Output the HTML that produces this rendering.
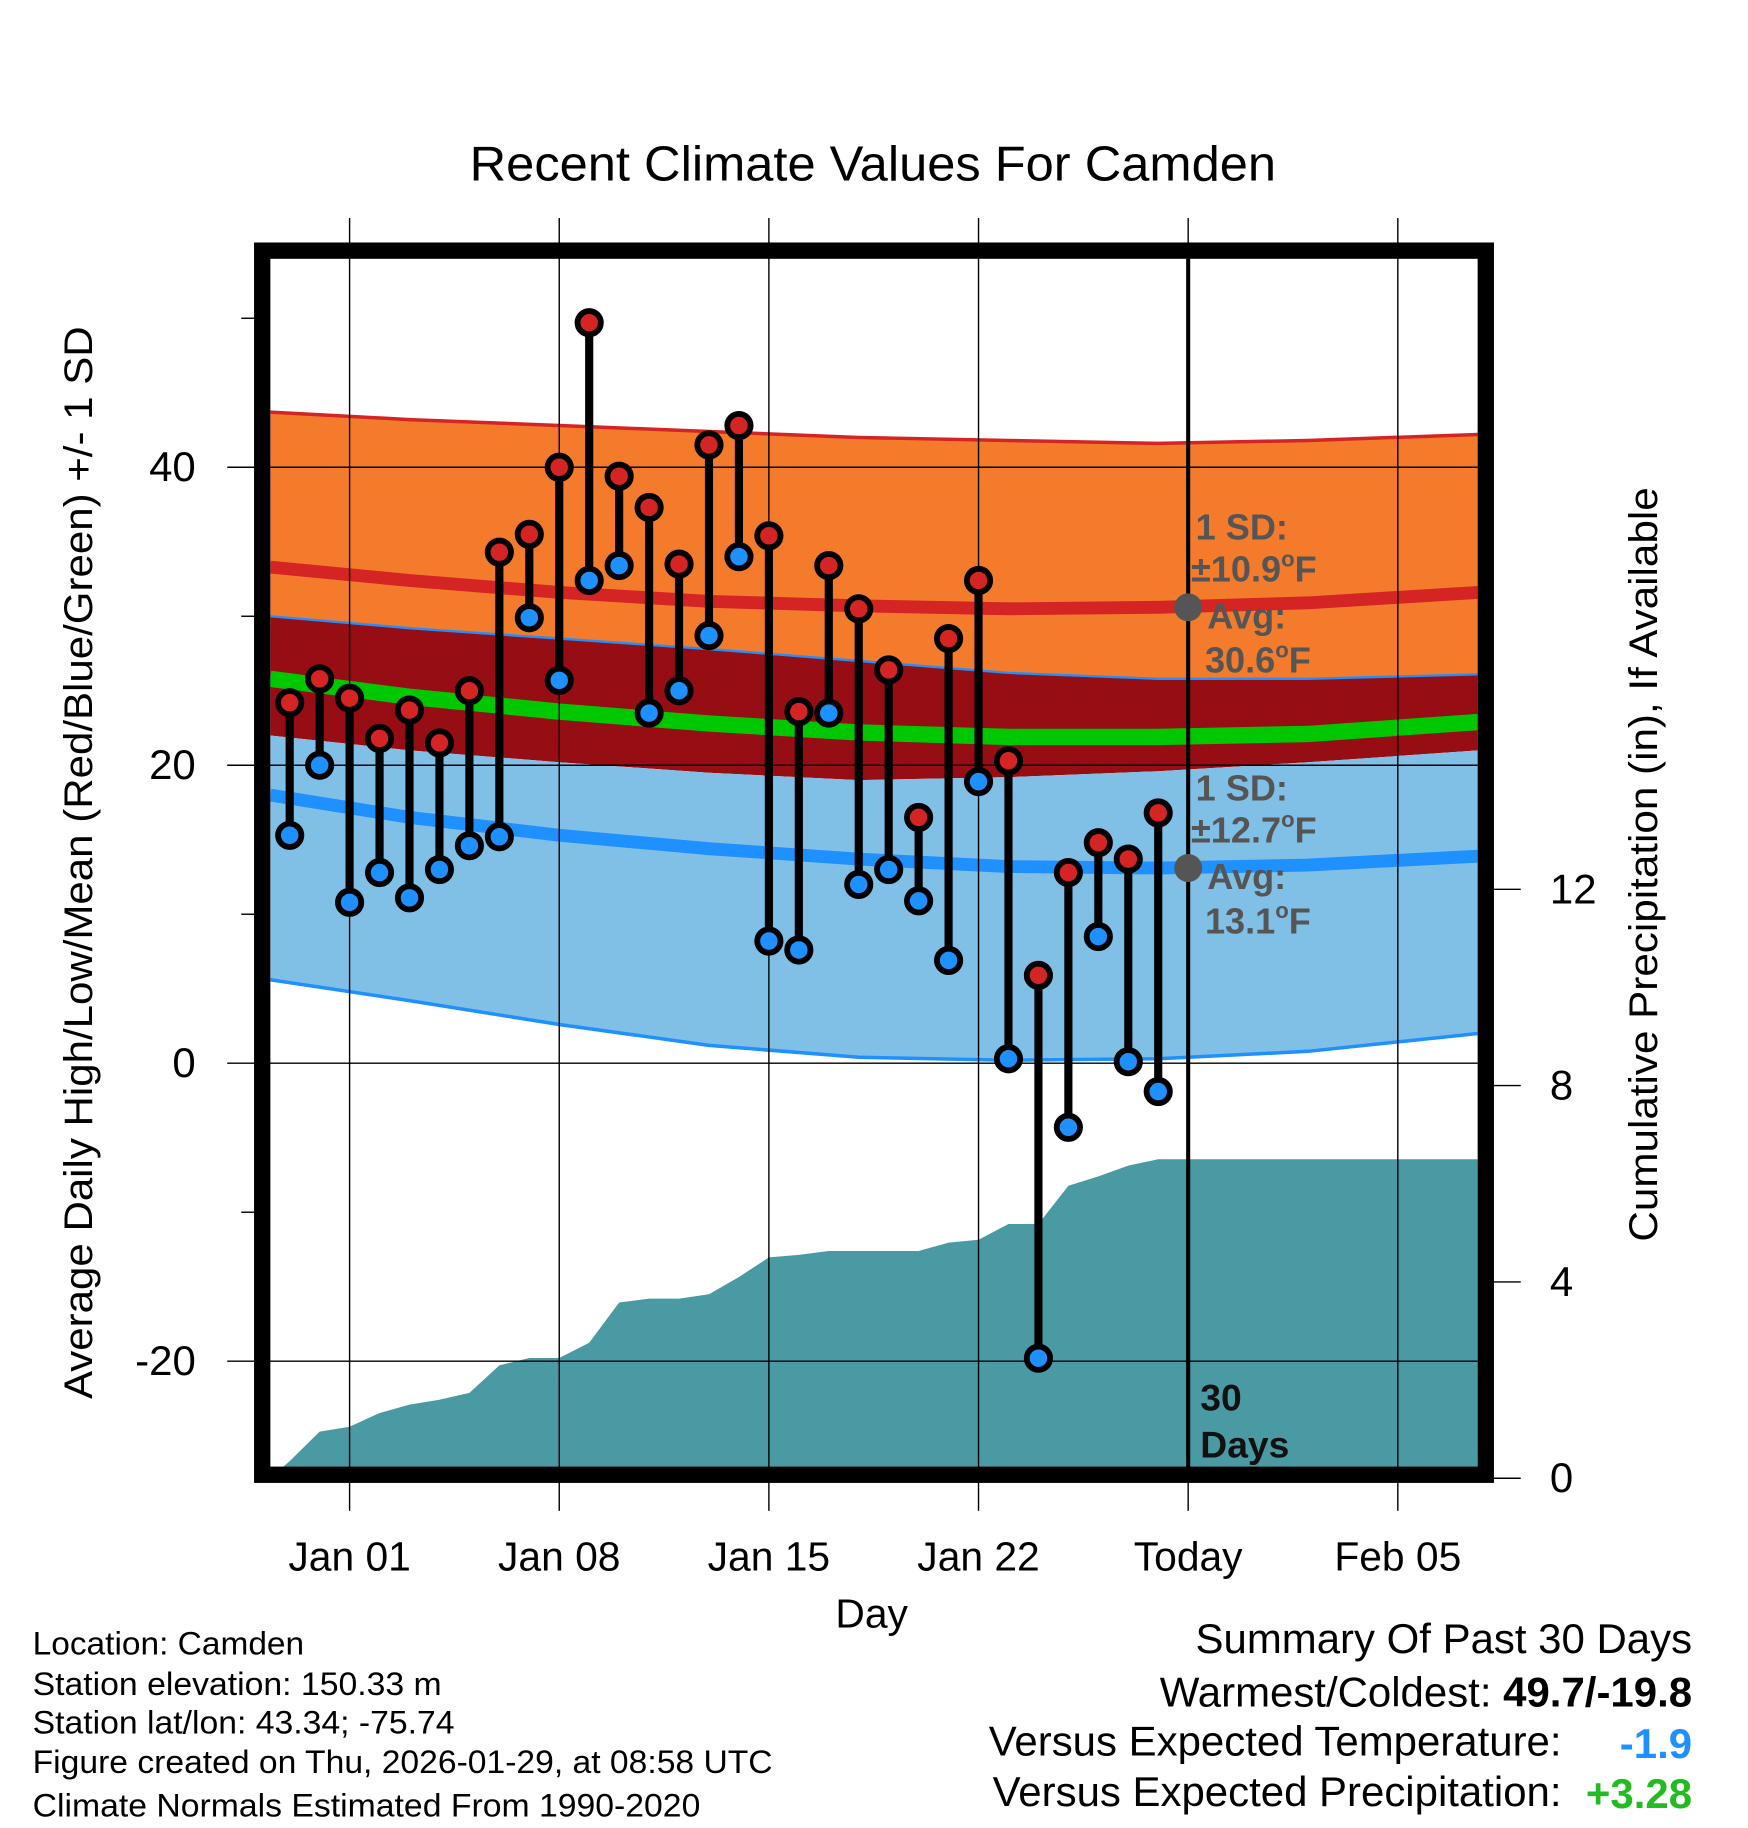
<!DOCTYPE html>
<html><head><meta charset="utf-8"><style>
html,body{margin:0;padding:0;background:#fff;}
svg{display:block;font-family:"Liberation Sans",Arial,sans-serif;}
</style></head><body>
<svg id="chart" width="1748" height="1828" viewBox="0 0 1500 1568" preserveAspectRatio="none" xmlns="http://www.w3.org/2000/svg">
<defs><clipPath id="plotclip"><rect x="232" y="222" width="1036" height="1038"/></clipPath></defs>
<rect x="0" y="0" width="1500" height="1568" fill="#fff"/>
<text x="403" y="155" font-size="42" textLength="692" lengthAdjust="spacingAndGlyphs">Recent Climate Values For Camden</text>
<g id="plot" clip-path="url(#plotclip)"></g>
<g id="axes"></g>
<g id="marks"></g>
<text transform="translate(79,1200) rotate(-90)" font-size="34" textLength="920" lengthAdjust="spacingAndGlyphs">Average Daily High/Low/Mean (Red/Blue/Green) +/- 1 SD</text>
<text transform="translate(1422,1065) rotate(-90)" font-size="34" textLength="647" lengthAdjust="spacingAndGlyphs">Cumulative Precipitation (in), If Available</text>
<text x="748" y="1396" font-size="35" text-anchor="middle">Day</text>
<g font-size="28">
<text x="28" y="1419" textLength="233" lengthAdjust="spacingAndGlyphs">Location: Camden</text>
<text x="28" y="1454" textLength="351" lengthAdjust="spacingAndGlyphs">Station elevation: 150.33 m</text>
<text x="28" y="1487" textLength="362" lengthAdjust="spacingAndGlyphs">Station lat/lon: 43.34; -75.74</text>
<text x="28" y="1521" textLength="635" lengthAdjust="spacingAndGlyphs">Figure created on Thu, 2026-01-29, at 08:58 UTC</text>
<text x="28" y="1558" textLength="573" lengthAdjust="spacingAndGlyphs">Climate Normals Estimated From 1990-2020</text>
</g>
<g font-size="36" text-anchor="end">
<text x="1452" y="1418">Summary Of Past 30 Days</text>
<text x="1452" y="1464">Warmest/Coldest: <tspan font-weight="bold">49.7/-19.8</tspan></text>
<text x="1340" y="1506">Versus Expected Temperature:</text>
<text x="1452" y="1508" font-weight="bold" fill="#1e90ff">-1.9</text>
<text x="1340" y="1549">Versus Expected Precipitation:</text>
<text x="1452" y="1551" font-weight="bold" fill="#22bb22">+3.28</text>
</g>
<script>
const highs=[24.2,25.8,24.5,21.8,23.7,21.5,25.0,34.3,35.5,40.0,49.7,39.4,37.3,33.5,41.5,42.8,35.4,23.6,33.4,30.5,26.4,16.5,28.5,32.4,20.3,5.9,12.8,14.8,13.7,16.8];
const lows=[15.3,20.0,10.8,12.8,11.1,13.0,14.6,15.2,29.9,25.7,32.4,33.4,23.5,25.0,28.7,34.0,8.2,7.6,23.5,12.0,13.0,10.9,6.9,18.9,0.3,-19.8,-4.3,8.5,0.1,-1.9];
const precip=[0.35,0.95,1.05,1.33,1.5,1.6,1.74,2.3,2.45,2.45,2.76,3.58,3.66,3.66,3.75,4.1,4.5,4.55,4.63,4.63,4.63,4.63,4.8,4.86,5.18,5.18,5.96,6.15,6.37,6.5];
const firstDay=-2;
const normDays=[-2.65,2,7,12,17,22,27,32,37.7];
const highUp=[43.7,43.2,42.8,42.4,42.0,41.8,41.6,41.8,42.2];
const highMean=[33.3,32.4,31.6,31.0,30.7,30.5,30.6,30.9,31.6];
const highLo=[30.0,29.2,28.5,27.8,27.0,26.2,25.8,25.8,26.1];
const meanMean=[25.8,24.6,23.6,22.8,22.2,21.9,21.9,22.1,22.9];
const lowUp=[22.0,21.0,20.2,19.5,19.0,19.2,19.6,20.2,21.0];
const lowMean=[18.0,16.5,15.3,14.4,13.7,13.2,13.1,13.3,13.9];
const lowLo=[5.6,4.2,2.6,1.2,0.4,0.2,0.3,0.8,2.0];
const yTicks=[40,20,0,-20];
const yMinor=[50,30,10,-10];
const y2Ticks=[0,4,8,12];
const xTickDays=[0,7,14,21,28,35];
const xTickLabels=["Jan 01","Jan 08","Jan 15","Jan 22","Today","Feb 05"];
const todayDay=28;

const NS="http://www.w3.org/2000/svg";
const X=d=>300+25.7*d;
const Y=v=>912-12.78*v;
const Y2=p=>1268-42.1*p;
function mk(parent,tag,attrs){const e=document.createElementNS(NS,tag);for(const k in attrs)e.setAttribute(k,attrs[k]);parent.appendChild(e);return e;}
const plot=document.getElementById('plot'),axes=document.getElementById('axes'),marks=document.getElementById('marks');
function line(arr){return normDays.map((d,i)=>X(d)+','+Y(arr[i])).join(' ');}
function band(top,bot){return normDays.map((d,i)=>X(d)+','+Y(top[i])).join(' ')+' '+normDays.slice().reverse().map((d,j)=>{const i=normDays.length-1-j;return X(d)+','+Y(bot[i]);}).join(' ');}
const lowTopClip=lowUp.map((v,i)=>Math.min(v,highLo[i]));
let e;
e=mk(plot,'polygon',{points:band(highUp,highLo),fill:'#f47b2c'});

e=mk(plot,'polygon',{points:band(highLo,lowTopClip),fill:'#960e14'});

e=mk(plot,'polygon',{points:band(lowTopClip,lowLo),fill:'#80c0e6'});

[[highUp,'#d42424',3,'high-upper-line'],[highLo,'#1e90ff',2,'high-lower-line'],[lowLo,'#1e90ff',3,'low-lower-line'],[highMean,'#d42424',11,'high-mean-line'],[meanMean,'#00c800',14,'mean-line'],[lowMean,'#1e90ff',11,'low-mean-line']].forEach(a=>{
 e=mk(plot,'polyline',{points:line(a[0]),fill:'none',stroke:a[1],'stroke-width':a[2]});
 
 
});
let pts=[X(-2.65)+','+Y2(0)];
precip.forEach((p,i)=>pts.push(X(firstDay+i)+','+Y2(p)));
pts.push(X(37.7)+','+Y2(precip[precip.length-1]));
pts.push(X(37.7)+','+1262);pts.push(X(-2.65)+','+1262);
e=mk(plot,'polygon',{points:pts.join(' '),fill:'#4a9aa4'});

yTicks.forEach(v=>{
 e=mk(axes,'line',{x1:195,x2:1268,y1:Y(v),y2:Y(v),stroke:'#000','stroke-width':1.2});
 
 e=mk(axes,'text',{x:168,y:Y(v)+12,'font-size':36,'text-anchor':'end'});e.textContent=v;
 
});
yMinor.forEach(v=>{e=mk(axes,'line',{x1:207,x2:220,y1:Y(v),y2:Y(v),stroke:'#000','stroke-width':1.2});
 });
y2Ticks.forEach(p=>{
 e=mk(axes,'line',{x1:1280,x2:1305,y1:Y2(p),y2:Y2(p),stroke:'#000','stroke-width':1.2});
 
 e=mk(axes,'text',{x:1330,y:Y2(p)+12,'font-size':36});e.textContent=p;
 
});
xTickDays.forEach((d,i)=>{
 e=mk(axes,'line',{x1:X(d),x2:X(d),y1:187,y2:1296,stroke:'#000','stroke-width':1.2});
 
 e=mk(axes,'text',{x:X(d),y:1347,'font-size':35,'text-anchor':'middle'});e.textContent=xTickLabels[i];
 
});
e=mk(axes,'line',{x1:X(todayDay),x2:X(todayDay),y1:222,y2:1262,stroke:'#000','stroke-width':3.5});

e=mk(axes,'rect',{x:225,y:215,width:1050,height:1050,fill:'none',stroke:'#000','stroke-width':14});

function degText(g,x,y,val){
 const t=mk(g,'text',{x:x,y:y});
 t.appendChild(document.createTextNode(val));
 const s=mk(t,'tspan',{'font-size':19,dy:-13});s.textContent='o';
 const f=mk(t,'tspan',{dy:13});f.textContent='F';
}
const ann=[[30.6,10.9],[13.1,12.7]];
ann.forEach(a=>{
 const cy=Y(a[0]);
 e=mk(axes,'circle',{cx:X(todayDay),cy:cy,r:12,fill:'#555'});
 
 const g=mk(axes,'g',{fill:'#555','font-weight':'bold','font-size':31});
 
 mk(g,'text',{x:1026,y:cy-58}).textContent='1 SD:';
 degText(g,1022,cy-22,'±'+a[1]);
 mk(g,'text',{x:1036,y:cy+18}).textContent='Avg:';
 degText(g,1034,cy+56,String(a[0]));
});
e=mk(axes,'text',{x:1030,y:1210,'font-size':32,'font-weight':'bold',fill:'#111'});e.textContent='30';

e=mk(axes,'text',{x:1030,y:1250,'font-size':32,'font-weight':'bold',fill:'#111'});e.textContent='Days';

highs.forEach((h,i)=>{
 const x=X(firstDay+i);
 e=mk(marks,'line',{x1:x,x2:x,y1:Y(h),y2:Y(lows[i]),stroke:'#000','stroke-width':7});
 
 e=mk(marks,'circle',{cx:x,cy:Y(h),r:10,fill:'#d42424',stroke:'#000','stroke-width':5});
 
 e=mk(marks,'circle',{cx:x,cy:Y(lows[i]),r:10,fill:'#1e90ff',stroke:'#000','stroke-width':5});
 
});
</script>
</svg>
</body></html>
